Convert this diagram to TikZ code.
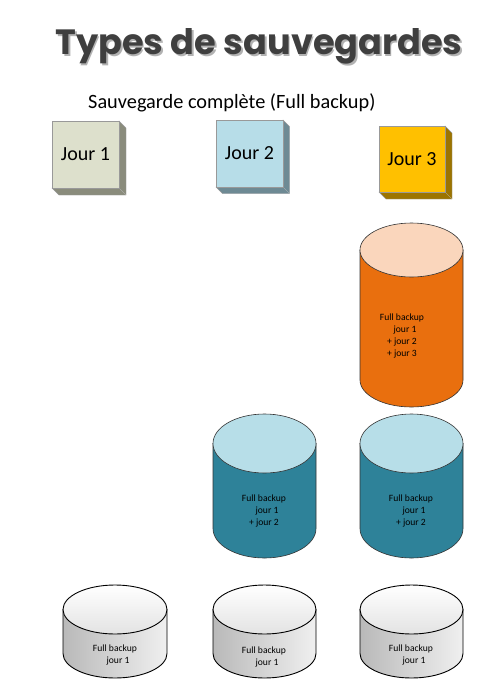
\documentclass[tikz,border=0pt]{standalone}
\usepackage{fontspec}
\usepackage{graphicx}
\setmainfont{Carlito}
\newfontfamily\titlefont{Poppins}
\definecolor{titlegray}{HTML}{3F3F3F}
\definecolor{j1front}{HTML}{DDE0CC}
\definecolor{j1side}{HTML}{8A8C7C}
\definecolor{j2front}{HTML}{B7DDE8}
\definecolor{j2side}{HTML}{6E8A94}
\definecolor{j3front}{HTML}{FFC000}
\definecolor{j3side}{HTML}{9C7400}
\definecolor{orgbody}{HTML}{E96F0E}
\definecolor{orgtop}{HTML}{FAD6BC}
\definecolor{tealbody}{HTML}{2E8299}
\definecolor{tealtop}{HTML}{B7DEE8}
\tikzset{
  daybox/.style={draw=black!40, line width=0.4pt},
  daylabel/.style={font=\fontsize{20}{22}\selectfont, text=black},
  cyltext/.style={font=\fontsize{9.6}{12.2}\selectfont, align=center, text=black},
  cyledge/.style={draw=black!80, line width=0.6pt},
  grayedge/.style={draw=black, line width=0.9pt},
}
% args: cx, top y, rx, ry, bottom-ellipse y, body style, top style
\newcommand\cylshape[7]{%
  \path[cyledge,#6] (#1-#3,#2) -- (#1-#3,#5) arc[start angle=180,end angle=360,x radius=#3pt,y radius=#4pt] -- (#1+#3,#2) -- cycle;
  \path[cyledge,#7] (#1,#2) ellipse[x radius=#3pt,y radius=#4pt];
}
% args: x0,y0,x1,y1,depth,front,side
\newcommand\daycube[7]{%
  \path[daybox,fill=#7] (#3,#2) -- (#3+#5,#2+#5) -- (#3+#5,#4+#5) -- (#1+#5,#4+#5) -- (#1,#4) -- (#3,#4) -- cycle;
  \draw[black!25, line width=0.3pt] (#3,#4) -- (#3+#5,#4+#5);
  \path[daybox,fill=#6] (#1,#2) rectangle (#3,#4);
}
\newcommand\titletext{Types de sauvegardes}
\begin{document}
\begin{tikzpicture}[x=1pt,y=-1pt]
\useasboundingbox (0,0) rectangle (501,686);
% title with a soft offset shadow inside the same node
\node[text=titlegray] (title) at (259,47.5) {\resizebox{407pt}{!}{\titlefont\bfseries\rlap{\kern0.45pt\raisebox{-0.45pt}{\color{black!30}\titletext}}\titletext}};
\node[font=\fontsize{20.3}{23}\selectfont, anchor=west, inner sep=0pt] (subtitle) at (88,103) {Sauvegarde complète (Full backup)};
% day cubes
\daycube{52}{121}{119}{188}{7}{j1front}{j1side}
\node[daylabel] (jour1) at (85.5,154.5) {Jour 1};
\daycube{216}{120}{283}{187}{6.5}{j2front}{j2side}
\node[daylabel] (jour2) at (249.5,153) {Jour 2};
\daycube{379}{126}{445}{192}{7}{j3front}{j3side}
\node[daylabel] (jour3) at (412,159) {Jour 3};
% orange cylinder
\cylshape{411.5}{250}{51.5}{27}{380}{fill=orgbody}{fill=orgtop}
\node[cyltext] (c3top) at (402,336) {Full backup\\\hspace*{6pt}jour 1\\+ jour 2\\+ jour 3};
% teal cylinders
\cylshape{264.5}{443.5}{51.5}{29.5}{528.5}{fill=tealbody}{fill=tealtop}
\node[cyltext] (c2mid) at (264,511) {Full backup\\\hspace*{6pt}jour 1\\+ jour 2};
\cylshape{411.5}{443.5}{51.5}{29.5}{528.5}{fill=tealbody}{fill=tealtop}
\node[cyltext] (c3mid) at (411,511) {Full backup\\\hspace*{6pt}jour 1\\+ jour 2};
% gray cylinders
\cylshape{115}{609.5}{52}{24.5}{653.5}{grayedge,left color=gray!55,right color=gray!12}{grayedge,top color=white,bottom color=gray!22}
\node[cyltext] (c1bot) at (115,655) {Full backup\\\hspace*{6pt}jour 1};
\cylshape{264.5}{609.5}{51.5}{24.5}{653.5}{grayedge,left color=gray!55,right color=gray!12}{grayedge,top color=white,bottom color=gray!22}
\node[cyltext] (c2bot) at (264,657) {Full backup\\\hspace*{6pt}jour 1};
\cylshape{411.5}{609.5}{51.5}{24.5}{653.5}{grayedge,left color=gray!55,right color=gray!12}{grayedge,top color=white,bottom color=gray!22}
\node[cyltext] (c3bot) at (411,655) {Full backup\\\hspace*{6pt}jour 1};
\end{tikzpicture}
\end{document}
